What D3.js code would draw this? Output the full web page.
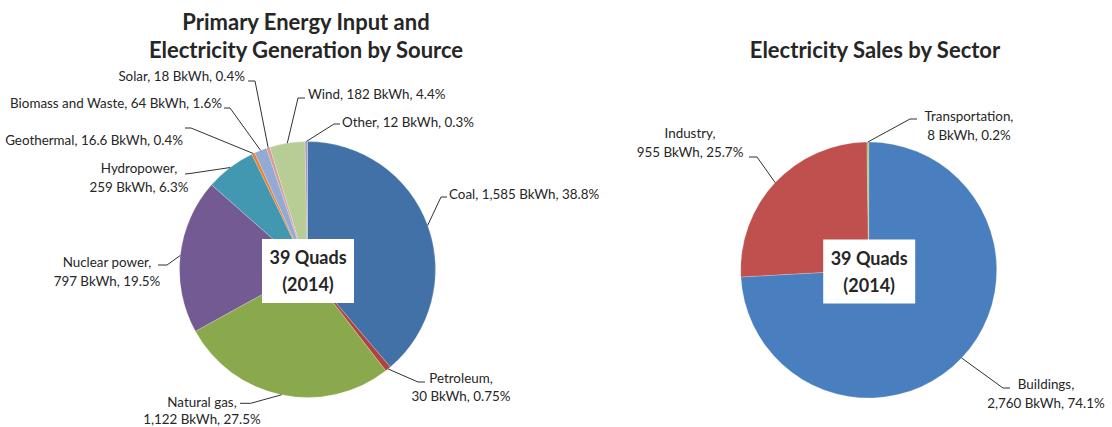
<!DOCTYPE html>
<html>
<head>
<meta charset="utf-8">
<script src="https://cdn.jsdelivr.net/npm/d3@7/dist/d3.min.js"></script>
<style>
  html, body { margin: 0; padding: 0; background: #fff; }
  svg { display: block; }
  text { font-family: Lato, "Open Sans", sans-serif; fill: #262626; }
</style>
</head>
<body>
<svg id="chart" width="1112" height="427"></svg>
<script>
// ---- Data ----
const sourceNames  = ["Coal", "Petroleum", "Natural gas", "Nuclear power", "Hydropower", "Geothermal", "Biomass and Waste", "Solar", "Wind", "Other"];
const sourceValues = [1585, 30, 1122, 797, 259, 16.6, 64, 18, 182, 12];
const sourceValueLabels = ["1,585 BkWh", "30 BkWh", "1,122 BkWh", "797 BkWh", "259 BkWh", "16.6 BkWh", "64 BkWh", "18 BkWh", "182 BkWh", "12 BkWh"];
const sourcePctLabels   = ["38.8%", "0.75%", "27.5%", "19.5%", "6.3%", "0.4%", "1.6%", "0.4%", "4.4%", "0.3%"];

const sectorNames  = ["Buildings", "Industry", "Transportation"];
const sectorValues = [2760, 955, 8];
const sectorValueLabels = ["2,760 BkWh", "955 BkWh", "8 BkWh"];
const sectorPctLabels   = ["74.1%", "25.7%", "0.2%"];

const centerLines = ["39 Quads", "(2014)"];
const titleLeft  = ["Primary Energy Input and", "Electricity Generation by Source"];
const titleRight = ["Electricity Sales by Sector"];

// ---- Styles / layout ----
const sourceColors = ["#4271A8", "#B0433F", "#8AA84C", "#735A93", "#4198B0", "#E8822F", "#93AAD4", "#D69B99", "#B8CD95", "#A899C0"];
const sectorColors = ["#4A7FBF", "#C0504D", "#9BBB59"];

const R = 128;
const leftCenter  = {x: 307.5, y: 269.5};
const rightCenter = {x: 868.7, y: 270};

// label layout (relative to pie centre): text anchor point, line gap, leader elbow + end
const leftLayout = {
  "Coal":              {lines: 1, anchor: "start",  tx: 141.5, ty: -75.5, gap: 19, elbow: [133.5, -72.5], end: [139.5, -72.5]},
  "Petroleum":         {lines: 2, anchor: "middle", tx: 153.5, ty: 108.5, gap: 18, elbow: [110.5, 112.5], end: [117.5, 112.5]},
  "Natural gas":       {lines: 2, anchor: "middle", tx: -105.5, ty: 132.5, gap: 17.5, elbow: [-56.8, 133.8], end: [-67.5, 133.8]},
  "Nuclear power":     {lines: 2, anchor: "middle", tx: -200.5, ty: -7.5, gap: 19, elbow: [-140.5, -4.5], end: [-149.5, -4.5]},
  "Hydropower":        {lines: 2, anchor: "middle", tx: -168.5, ty: -101.5, gap: 19, elbow: [-117.5, -96], end: [-122.5, -95.5]},
  "Geothermal":        {lines: 1, anchor: "end",    tx: -124.5, ty: -129.5, gap: 19, elbow: [-116.5, -141.5], end: [-122.5, -141.5]},
  "Biomass and Waste": {lines: 1, anchor: "end",    tx: -85.5, ty: -166.5, gap: 19, elbow: [-77.5, -161.5], end: [-83.5, -161.5]},
  "Solar":             {lines: 1, anchor: "end",    tx: -62.5, ty: -193.5, gap: 19, elbow: [-52.5, -188.5], end: [-59.5, -188.5]},
  "Wind":              {lines: 1, anchor: "start",  tx: 0.5, ty: -175.5, gap: 19, elbow: [-9.5, -171.5], end: [-2.5, -171.5]},
  "Other":             {lines: 1, anchor: "start",  tx: 34.5, ty: -147.5, gap: 19, elbow: [26.5, -145.5], end: [32.5, -145.5]}
};
const rightLayout = {
  "Buildings":      {lines: 2, anchor: "middle", tx: 177.3, ty: 114, gap: 19.5, elbow: [134.3, 118], end: [141.3, 118]},
  "Industry":       {lines: 2, anchor: "middle", tx: -178.7, ty: -137, gap: 19, elbow: [-111.7, -113], end: [-119.7, -113]},
  "Transportation": {lines: 2, anchor: "middle", tx: 100.3, ty: -154, gap: 19.5, elbow: [41.3, -151], end: [48.3, -151]}
};

const svg = d3.select("#chart");

function drawPie(center, names, values, valueLabels, pctLabels, colors, layout) {
  const g = svg.append("g").attr("transform", `translate(${center.x},${center.y})`);
  const pie = d3.pie().sort(null).value(d => d.value);
  const arcs = pie(names.map((n, i) => ({name: n, value: values[i], vl: valueLabels[i], pl: pctLabels[i], color: colors[i]})));
  const arc = d3.arc().innerRadius(0).outerRadius(R);
  const edge = d3.arc().innerRadius(R).outerRadius(R);

  g.selectAll("path.slice").data(arcs).enter().append("path")
    .attr("class", "slice")
    .attr("d", arc)
    .attr("fill", d => d.data.color)
    .attr("stroke", "rgba(255,255,255,0.35)")
    .attr("stroke-width", 0.6);

  arcs.forEach(d => {
    const L = layout[d.data.name];
    const p = edge.centroid(d);
    g.append("polyline")
      .attr("points", [p, L.elbow, L.end].map(q => q.join(",")).join(" "))
      .attr("fill", "none")
      .attr("stroke", "#1a1a1a")
      .attr("stroke-width", 0.9);
    const t = g.append("text")
      .attr("text-anchor", L.anchor)
      .attr("font-size", 13.4);
    let lines;
    if (L.lines === 2) lines = [d.data.name + ",", d.data.vl + ", " + d.data.pl];
    else lines = [d.data.name + ", " + d.data.vl + ", " + d.data.pl];
    lines.forEach((s, i) => {
      t.append("tspan").attr("x", L.tx).attr("y", L.ty + i * L.gap).attr("dy", "0.35em").text(s);
    });
  });

  // centre box
  const bw = 92, bh = 64;
  g.append("rect").attr("x", -46 + 0.5).attr("y", -30.5).attr("width", bw).attr("height", bh).attr("fill", "#fff");
  centerLines.forEach((s, i) => {
    g.append("text").attr("x", 0.5).attr("y", -11.5 + i * 27).attr("dy", "0.35em")
      .attr("text-anchor", "middle").attr("font-size", 18).attr("font-weight", "bold").text(s);
  });
}

drawPie(leftCenter, sourceNames, sourceValues, sourceValueLabels, sourcePctLabels, sourceColors, leftLayout);
drawPie(rightCenter, sectorNames, sectorValues, sectorValueLabels, sectorPctLabels, sectorColors, rightLayout);

// titles
titleLeft.forEach((s, i) => {
  svg.append("text").attr("x", 306).attr("y", 22 + i * 28).attr("dy", "0.35em")
    .attr("text-anchor", "middle").attr("font-size", 22).attr("font-weight", "bold").text(s);
});
titleRight.forEach((s, i) => {
  svg.append("text").attr("x", 875).attr("y", 50 + i * 28).attr("dy", "0.35em")
    .attr("text-anchor", "middle").attr("font-size", 22).attr("font-weight", "bold").text(s);
});
</script>
</body>
</html>
